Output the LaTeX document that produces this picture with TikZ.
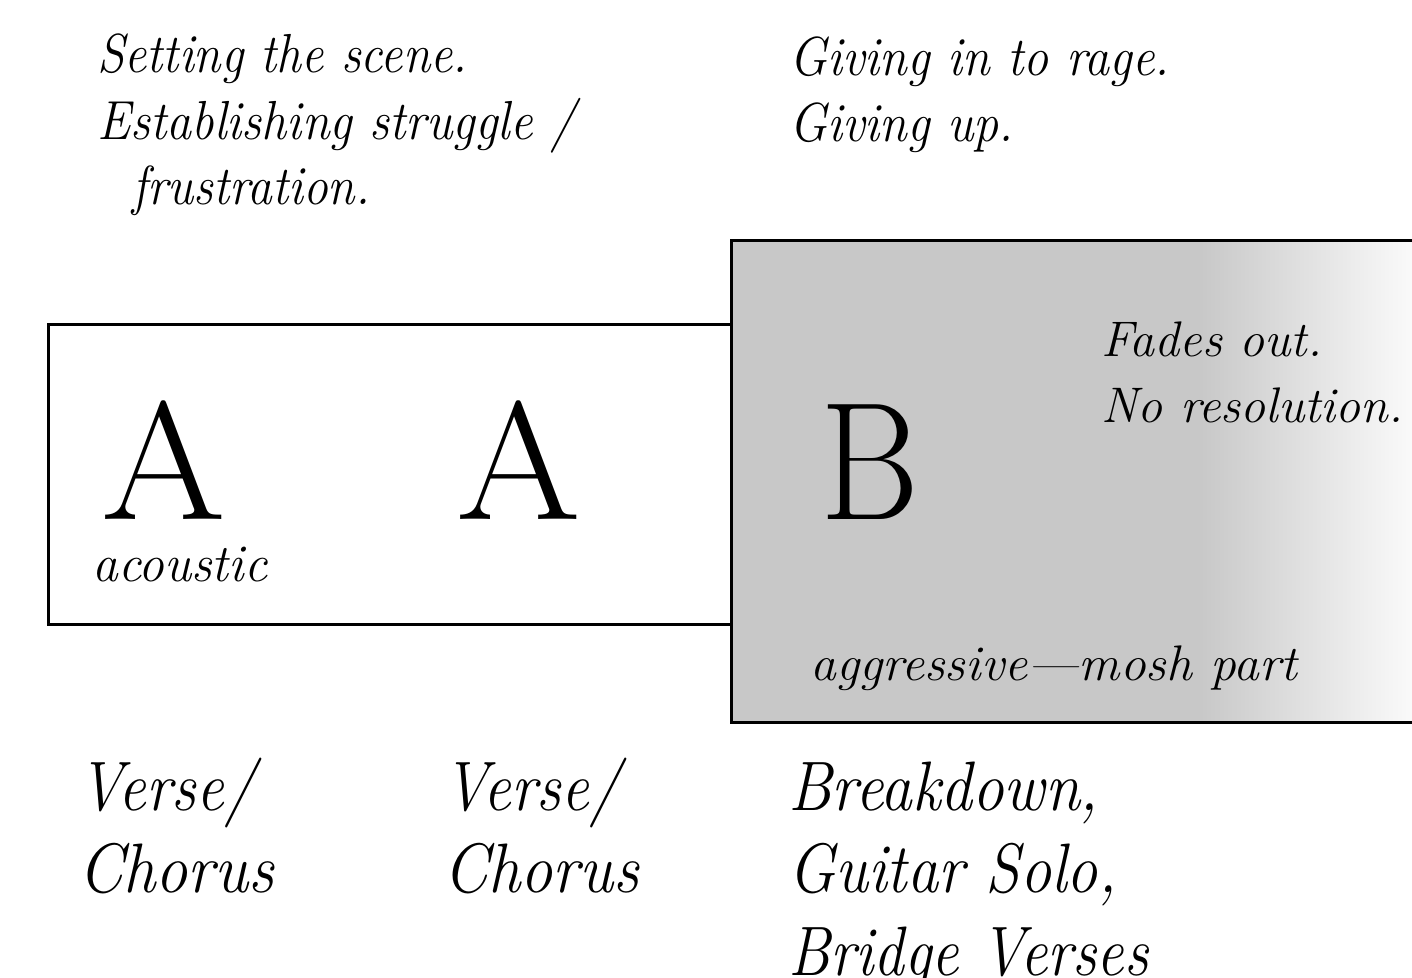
\documentclass[tikz,border=0pt]{standalone}
\IfFileExists{pplri8t.tfm}{\usepackage[T1]{fontenc}\renewcommand\rmdefault{ppl}}{}
\definecolor{boxgray}{RGB}{200,200,200}
\definecolor{fadeend}{RGB}{250,250,250}
\newcommand\xsqz[2]{\scalebox{#1}[1]{#2}}
\begin{document}
\begin{tikzpicture}[x=0.5pt,y=-0.5pt,
  toptxt/.style={anchor=base west, inner sep=0pt, font=\itshape\fontsize{27.5}{33}\selectfont},
  intxt/.style={anchor=base west, inner sep=0pt, font=\itshape\fontsize{25}{30}\selectfont},
  bigletter/.style={anchor=base west, inner sep=0pt, font=\fontsize{84}{90}\selectfont},
  lbl/.style={anchor=base west, inner sep=0pt, font=\itshape\fontsize{35}{41}\selectfont},
  boxline/.style={line width=1.5pt}]
\useasboundingbox (0,0) rectangle (1412,978);
% gray box with fade
\fill[boxgray] (731,241) rectangle (1200,722);
\shade[left color=boxgray, right color=fadeend] (1200,241) rectangle (1412,722);
\draw[boxline] (1412,241) -- (731,241) -- (731,722) -- (1412,722);
% left box
\draw[boxline] (731,325) -- (48,325) -- (48,624) -- (731,624);
% top texts
\node[toptxt] (s1) at (97,73) {\xsqz{0.9}{Setting the scene.}};
\node[toptxt] (s2) at (97,140) {\xsqz{0.91}{Establishing struggle /}};
\node[toptxt] (s3) at (132,205) {\xsqz{0.9}{frustration.}};
\node[toptxt] (g1) at (789,76) {\xsqz{0.91}{Giving in to rage.}};
\node[toptxt] (g2) at (789,142) {\xsqz{0.91}{Giving up.}};
% letters
\node[bigletter] (A1) at (101,519) {\xsqz{1.07}{A}};
\node[bigletter] (A2) at (456,519) {\xsqz{1.07}{A}};
\node[bigletter] (B) at (820,519) {\xsqz{0.9}{B}};
\node[intxt, font=\itshape\fontsize{26.5}{30}\selectfont] (ac) at (92,581) {\xsqz{0.97}{acoustic}};
\node[intxt] (f1) at (1101,357) {Fades out.};
\node[intxt] (f2) at (1101,422) {No resolution.};
\node[intxt] (ag) at (810,680) {\xsqz{1.03}{aggressive---mosh part}};
% bottom labels
\node[lbl] (v1) at (78,810) {\xsqz{0.88}{Verse/}};
\node[lbl] (c1) at (78,892) {\xsqz{0.92}{Chorus}};
\node[lbl] (v2) at (443,810) {\xsqz{0.88}{Verse/}};
\node[lbl] (c2) at (443,892) {\xsqz{0.92}{Chorus}};
\node[lbl] (b1) at (788,810) {\xsqz{0.905}{Breakdown,}};
\node[lbl] (b2) at (788,892) {\xsqz{0.89}{Guitar Solo,}};
\node[lbl] (b3) at (788,975) {\xsqz{0.87}{Bridge Verses}};
\end{tikzpicture}
\end{document}
